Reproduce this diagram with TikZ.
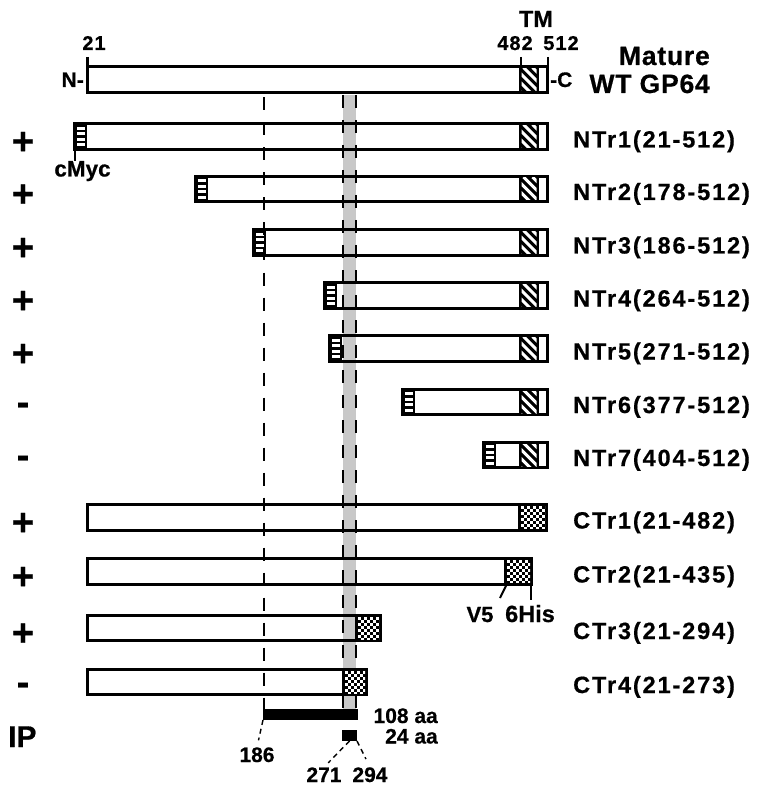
\documentclass[tikz,border=0pt]{standalone}
\usepackage{fontspec}
\setmainfont{Liberation Sans}[BoldFeatures={FakeBold=0.6}]
\newfontfamily\rowfont{Liberation Sans}[LetterSpace=8, BoldFeatures={FakeBold=0.6}]
\newfontfamily\numfont{Liberation Sans}[LetterSpace=5, BoldFeatures={FakeBold=0.6}]
\newfontfamily\namefont{Liberation Sans}[LetterSpace=3, BoldFeatures={FakeBold=0.6}]
\usepackage{tikz}
\usetikzlibrary{positioning}
\definecolor{bandgray}{RGB}{200,200,200}

\begin{document}
\begin{tikzpicture}[x=1pt, y=-1pt,
  gpbox/.style={draw, line width=3pt, minimum height=25.5pt, inner sep=0pt, outer sep=0pt, anchor=west},
  tagbox/.style={fill=black, minimum height=28.5pt, inner sep=0pt, outer sep=0pt, anchor=west},
  ipbox/.style={fill=black, minimum height=11pt, inner sep=0pt, outer sep=0pt, anchor=north west},
  rowlab/.style={font=\rowfont\bfseries\fontsize{23.5}{26}\selectfont, anchor=base west, inner sep=0pt},
  signtxt/.style={font=\bfseries\fontsize{38}{40}\selectfont, anchor=base, inner sep=0pt},
  num/.style={font=\numfont\bfseries\fontsize{20}{22}\selectfont, anchor=base, inner sep=0pt},
  lbl/.style={font=\bfseries\fontsize{21}{24}\selectfont, anchor=base, inner sep=0pt},
  guide/.style={line width=1.6pt, dash pattern=on 13pt off 12pt},
  tickln/.style={line width=2.5pt},
  ipdash/.style={line width=1.4pt, dash pattern=on 5pt off 4pt},
]
  \useasboundingbox (0,0) rectangle (762,791);

  % IP region and shaded band
  \node[ipbox, minimum width=95pt] (ipbar) at (263,709) {};
  \node[ipbox, minimum width=15pt] (ip24) at (342,730) {};
  \coordinate (g186) at (264,97.5);
  \coordinate (g271) at (343,95);
  \coordinate (g294) at (356,95);
  \fill[bandgray] (g271) rectangle (g294 |- ipbar.north);

  % mature protein
  \node[gpbox, minimum width=460pt] (wt) at (87.5,79.5) {};
  \fill (519,65.25) rectangle (539,93.75);
  \begin{scope}
    \clip (521.5,68.5) rectangle (536.5,90.5);
    \foreach \k in {0,...,5}
      \draw[white, line width=3pt] (487.5+\k*9,67.5) -- ++(26,26);
  \end{scope}
  \coordinate (t21) at (87.5,57);
  \coordinate (t482) at (521,57);
  \coordinate (t512) at (548,57);
  \draw[tickln] (t21) -- (t21 |- wt.north);
  \draw[tickln] (t482) -- (t482 |- wt.north);
  \draw[tickln] (t512) -- (t512 |- wt.north);
  \node[num] (n21) at (94,50) {21};
  \node[num] (n482) at (515,50) {482};
  \node[num] (n512) at (561,50) {512};
  \node[font=\bfseries\fontsize{23.5}{26}\selectfont, anchor=base, inner sep=0pt] (tm) at (536,27) {TM};
  \node[lbl, anchor=base east] (nterm) at (84,87) {N-};
  \node[lbl, anchor=base west] (cterm) at (550,87) {-C};
  \node[font=\namefont\bfseries\fontsize{26.5}{30}\selectfont, anchor=base east, inner sep=0pt] (mature) at (710,65) {Mature};
  \node[font=\namefont\bfseries\fontsize{26.5}{30}\selectfont, anchor=base east, inner sep=0pt] (wtgp) at (710,93) {WT GP64};

  % N-terminal truncations
  \foreach \n/\l/\y/\txt/\s/\b in {
      ntr1/73/136.5/NTr1(21-512)/+/17.7,
      ntr2/194/189/NTr2(178-512)/+/17.7,
      ntr3/252/242.5/NTr3(186-512)/+/17.7,
      ntr4/323/295.5/NTr4(264-512)/+/17.7,
      ntr5/328/348.5/NTr5(271-512)/+/17.7,
      ntr6/401/402/NTr6(377-512)/-/12.9,
      ntr7/482/455/NTr7(404-512)/-/12.9}
  {
    \node[gpbox, minimum width={546-\l}] (\n) at (\l+1.5,\y) {};
    \node[tagbox, minimum width=14pt] (\n-tag) at (\l,\y) {};
    \foreach \d in {-8.25,-2.75,2.75,8.25}
      \fill[white] (\l+4,\y+\d-1.4) rectangle (\l+12,\y+\d+1.4);
    \fill (519,\y-14.25) rectangle (539,\y+14.25);
    \begin{scope}
      \clip (521.5,\y-11) rectangle (536.5,\y+11);
      \foreach \k in {0,...,5}
        \draw[white, line width=3pt] (487.5+\k*9,\y-12) -- ++(26,26);
    \end{scope}
    \node[rowlab] (\n-lab) at (573,\y+11) {\txt};
    \node[signtxt] (\n-sgn) at (23,\y+\b) {\s};
  }

  % C-terminal truncations
  \foreach \n/\y/\a/\e/\txt/\s/\b in {
      ctr1/517.5/518/548/CTr1(21-482)/+/17.7,
      ctr2/571.5/504/533/CTr2(21-435)/+/17.7,
      ctr3/628/355/382/CTr3(21-294)/+/17.7,
      ctr4/682/342/368/CTr4(21-273)/-/12.9}
  {
    \node[gpbox, minimum width={\e-89}] (\n) at (87.5,\y) {};
    \node[rowlab] (\n-lab) at (573,\y+11) {\txt};
    \node[signtxt] (\n-sgn) at (23,\y+\b) {\s};
  }

  % guide lines
  \draw[guide] (g186) -- (g186 |- ipbar.north);
  \draw[guide] (g271) -- (g271 |- ipbar.north);
  \draw[guide] (g294) -- (g294 |- ipbar.north);

  % V5-6His tags
  \foreach \n/\y/\a/\e in {ctr1/517.5/518/548, ctr2/571.5/504/533, ctr3/628/355/382, ctr4/682/342/368}
  {
    \node[tagbox, minimum width={\e-\a}] (\n-tag) at (\a,\y) {};
    \begin{scope}
      \clip (\a+3,\y-11.25) rectangle (\e-3,\y+11.25);
      \foreach \i in {0,...,4}
        \foreach \j in {0,...,3} {
          \fill[white] (\a+3+6*\i,\y-11.25+6*\j) rectangle ++(3,3);
          \fill[white] (\a+6+6*\i,\y-8.25+6*\j) rectangle ++(3,3);
        }
    \end{scope}
  }

  % tag labels
  \node[lbl, font=\bfseries\fontsize{22.5}{24}\selectfont] (cmyc) at (82.5,176.5) {cMyc};
  \coordinate (mycpin) at (75,150);
  \draw[tickln] (mycpin) -- (mycpin |- cmyc.north);
  \node[lbl, font=\bfseries\fontsize{22}{24}\selectfont] (v5) at (480,622) {V5};
  \node[lbl, font=\bfseries\fontsize{23.5}{24}\selectfont] (his) at (530,622) {6His};
  \coordinate (v5pin) at (500,598);
  \coordinate (hispin) at (531,600);
  \draw[line width=2pt] ([xshift=2pt]ctr2-tag.south west) -- (v5pin);
  \draw[line width=2pt] (hispin |- ctr2-tag.south) -- (hispin);

  % IP labels
  \node[font=\bfseries\fontsize{30}{32}\selectfont, anchor=base west, inner sep=0pt] (ip) at (8,747) {IP};
  \node[lbl, anchor=base east] (aa108) at (438,723) {108 aa};
  \node[lbl, anchor=base east] (aa24) at (438,743.5) {24 aa};
  \node[lbl] (n186) at (257,762) {186};
  \node[lbl] (n271) at (324,782) {271};
  \node[lbl] (n294) at (370,782) {294};
  \draw[ipdash, shorten >=7pt] (ipbar.south west) -- (n186.north);
  \draw[ipdash, shorten >=6pt] (ip24.south) -- (n271.north);
  \draw[ipdash, shorten >=9pt] (ip24.south east) -- (n294.north);
\end{tikzpicture}
\end{document}
